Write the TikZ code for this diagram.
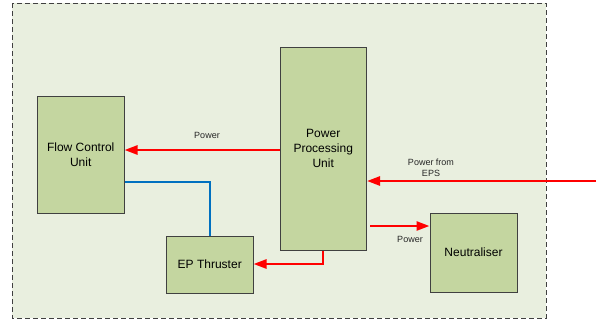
\documentclass[tikz,border=0pt]{standalone}
\usepackage{fontspec}
\setmainfont{Liberation Sans}
\usetikzlibrary{arrows.meta}
\definecolor{bgfill}{HTML}{E9EFDF}
\definecolor{boxfill}{HTML}{C4D6A0}
\definecolor{boxline}{HTML}{404040}
\definecolor{pwr}{HTML}{FF0000}
\definecolor{flow}{HTML}{0070C0}
\tikzset{
  unitbox/.style={draw=boxline, fill=boxfill, line width=1pt, inner sep=0pt, align=center, font=\fontsize{12}{15}\selectfont},
  pwrline/.style={draw=pwr, line width=2.5pt, -{Triangle[length=13pt,width=9pt]}},
  flowline/.style={draw=flow, line width=2pt},
  lbl/.style={font=\fontsize{9}{11.5}\selectfont, text=black!85, align=center, inner sep=0pt}
}
\begin{document}
\begin{tikzpicture}[x=1pt,y=-1pt]
\useasboundingbox (0,0) rectangle (598,322);
\draw[boxline, fill=bgfill, line width=1pt, dash pattern=on 5pt off 3pt] (12,3) rectangle (546,318);
\node[unitbox, minimum width=86.5pt, minimum height=116.5pt] (fcu) at (80.75,154.75) {Flow Control\\Unit};
\node[unitbox, minimum width=86.5pt, minimum height=203pt] (ppu) at (323.25,148.5) {Power\\Processing\\Unit};
\node[unitbox, minimum width=86.5pt, minimum height=57pt] (ep) at (209.75,264.5) {EP Thruster};
\node[unitbox, minimum width=87pt, minimum height=79pt] (neu) at (473.5,252.5) {Neutraliser};
\coordinate (eps) at (596,181);
\coordinate (nstart) at (370,226);
% power PPU -> FCU
\draw[pwrline] (ppu.west |- 0,150) -- (fcu.east |- 0,150);
\node[lbl] (l1) at (207,135) {Power};
% power from EPS
\draw[pwrline] (eps) -- (ppu.east |- eps);
\node[lbl] (l2) at (431,168) {Power from\\EPS};
% PPU -> neutraliser
\draw[pwrline] (nstart) -- (neu.west |- nstart);
\node[lbl] (l3) at (410,239) {Power};
% PPU -> EP thruster
\draw[pwrline] (ppu.south -| 323,0) -- (323,264) -- (ep.east |- 0,264);
% blue flow
\draw[flowline] (fcu.east |- 0,181.5) -- (210,181.5) -- (ep.north -| 210,0);
\end{tikzpicture}
\end{document}
